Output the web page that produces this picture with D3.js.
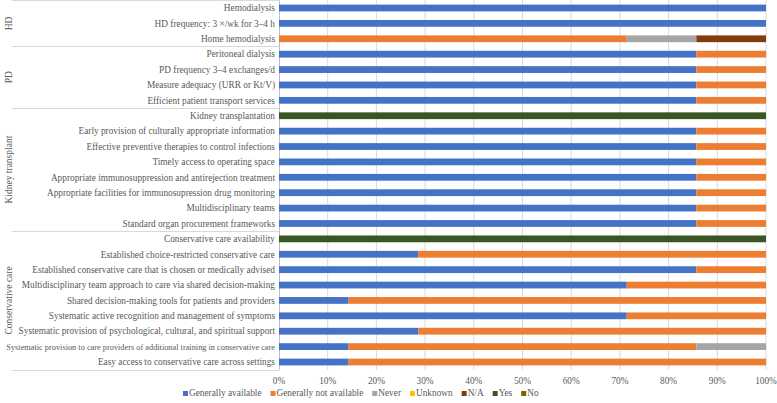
<!DOCTYPE html>
<html><head><meta charset="utf-8">
<script src="https://cdn.jsdelivr.net/npm/d3@7"></script>
<style>
html,body{margin:0;padding:0;background:#fff;}
svg{display:block;font-family:"Liberation Serif","Times New Roman",serif;}
</style></head>
<body><svg id="c" width="777" height="403"></svg>
<script>
const categories = [
 "Hemodialysis","HD frequency: 3 ×/wk for 3–4 h","Home hemodialysis",
 "Peritoneal dialysis","PD frequency 3–4 exchanges/d","Measure adequacy (URR or Kt/V)","Efficient patient transport services",
 "Kidney transplantation","Early provision of culturally appropriate information","Effective preventive therapies to control infections","Timely access to operating space","Appropriate immunosuppression and antirejection treatment","Appropriate facilities for immunosupression drug monitoring","Multidisciplinary teams","Standard organ procurement frameworks",
 "Conservative care availability","Established choice-restricted conservative care","Established conservative care that is chosen or medically advised","Multidisciplinary team approach to care via shared decision-making","Shared decision-making tools for patients and providers","Systematic active recognition and management of symptoms","Systematic provision of psychological, cultural, and spiritual support","Systematic provision to care providers of additional training in conservative care","Easy access to conservative care across settings"
];
const groupNames = ["HD","PD","Kidney transplant","Conservative care"];
const groupSizes = [3,4,8,9];
const seriesNames = ["Generally available","Generally not available","Never","Unknown","N/A","Yes","No"];
const seriesColors = ["#4472C4","#ED7D31","#A5A5A5","#FFC000","#843C0C","#375623","#7F6000"];
const generallyAvailable =    [100,100,0,   85.7,85.7,85.7,85.7, 0,85.7,85.7,85.7,85.7,85.7,85.7,85.7, 0,28.6,85.7,71.4,14.3,71.4,28.6,14.3,14.3];
const generallyNotAvailable = [0,0,71.4,    14.3,14.3,14.3,14.3, 0,14.3,14.3,14.3,14.3,14.3,14.3,14.3, 0,71.4,14.3,28.6,85.7,28.6,71.4,71.4,85.7];
const never =                 [0,0,14.3,    0,0,0,0,             0,0,0,0,0,0,0,0,                   0,0,0,0,0,0,0,14.3,0];
const unknown =               [0,0,0,       0,0,0,0,             0,0,0,0,0,0,0,0,                   0,0,0,0,0,0,0,0,0];
const na =                    [0,0,14.3,    0,0,0,0,             0,0,0,0,0,0,0,0,                   0,0,0,0,0,0,0,0,0];
const yes =                   [0,0,0,       0,0,0,0,             100,0,0,0,0,0,0,0,                 100,0,0,0,0,0,0,0,0];
const no =                    [0,0,0,       0,0,0,0,             0,0,0,0,0,0,0,0,                   0,0,0,0,0,0,0,0,0];
const xTicks = [0,10,20,30,40,50,60,70,80,90,100];

(function(){
const seriesVals = [generallyAvailable,generallyNotAvailable,never,unknown,na,yes,no];
const table = categories.map((c,i)=>{const o={cat:c}; seriesNames.forEach((s,j)=>o[s]=seriesVals[j][i]); return o;});

const svg = d3.select("#c");
const pLeft=279, pRight=766, pTop=0.3, pBottom=369.7;
const x = d3.scaleLinear().domain([0,100]).range([pLeft,pRight]);
const y = d3.scaleBand().domain(categories).range([pTop,pBottom]).paddingInner(0).paddingOuter(0);
const color = d3.scaleOrdinal().domain(seriesNames).range(seriesColors);
const textCol="#595959", gridCol="#d9d9d9";

svg.append("g").selectAll("line").data(xTicks.filter(t=>t>0)).join("line")
 .attr("x1",d=>x(d)).attr("x2",d=>x(d)).attr("y1",pTop).attr("y2",pBottom)
 .attr("stroke",gridCol).attr("stroke-width",1);

const bounds=[0]; groupSizes.reduce((a,n)=>{bounds.push(a+n);return a+n;},0);
const step=y.step();
svg.append("g").selectAll("line").data(bounds).join("line")
 .attr("x1",12).attr("x2",pLeft).attr("y1",d=>Math.round(pTop+d*step)+0.5).attr("y2",d=>Math.round(pTop+d*step)+0.5)
 .attr("stroke",gridCol).attr("stroke-width",1);
svg.append("line").attr("x1",pLeft+0.5).attr("x2",pLeft+0.5).attr("y1",pTop).attr("y2",pBottom).attr("stroke","#bfbfbf");

const stack = d3.stack().keys(seriesNames)(table);
const bh = step*0.44;
svg.append("g").selectAll("g").data(stack).join("g").attr("fill",d=>color(d.key))
 .selectAll("rect").data(d=>d.filter(p=>p[1]-p[0]>0)).join("rect")
 .attr("x",d=>x(d[0])).attr("width",d=>x(d[1])-x(d[0]))
 .attr("y",d=>y(d.data.cat)+step/2-bh/2).attr("height",bh);

const lab = svg.append("g").selectAll("text").data(categories).join("text")
 .attr("x",pLeft-4).attr("y",d=>y(d)+step/2).attr("dy","0.35em")
 .attr("text-anchor","end").attr("fill",textCol).attr("font-size",9.3).text(d=>d);
lab.each(function(){const w=this.getComputedTextLength(); if(w>pLeft-10){d3.select(this).attr("font-size",9.3*(pLeft-10)/w);}});

svg.append("g").selectAll("text").data(groupNames).join("text")
 .attr("transform",(d,i)=>`translate(9,${pTop+(bounds[i]+bounds[i+1])/2*step}) rotate(-90)`)
 .attr("text-anchor","middle").attr("dy","0.35em").attr("fill",textCol).attr("font-size",9.5).text(d=>d);

svg.append("g").selectAll("text").data(xTicks).join("text")
 .attr("x",d=>x(d)).attr("y",384).attr("text-anchor","middle").attr("fill",textCol).attr("font-size",9.3)
 .text(d=>d+"%");

const lg = svg.append("g").attr("transform","translate(183,396)");
let lx=0;
seriesNames.forEach((s,i)=>{
  const g=lg.append("g").attr("transform",`translate(${lx},0)`);
  g.append("rect").attr("x",0).attr("y",-5).attr("width",5).attr("height",5).attr("fill",color(s));
  const t=g.append("text").attr("x",6).attr("y",0).attr("fill",textCol).attr("font-size",9.3).text(s);
  lx += 6 + t.node().getComputedTextLength() + 9;
});
})();
</script></body></html>
